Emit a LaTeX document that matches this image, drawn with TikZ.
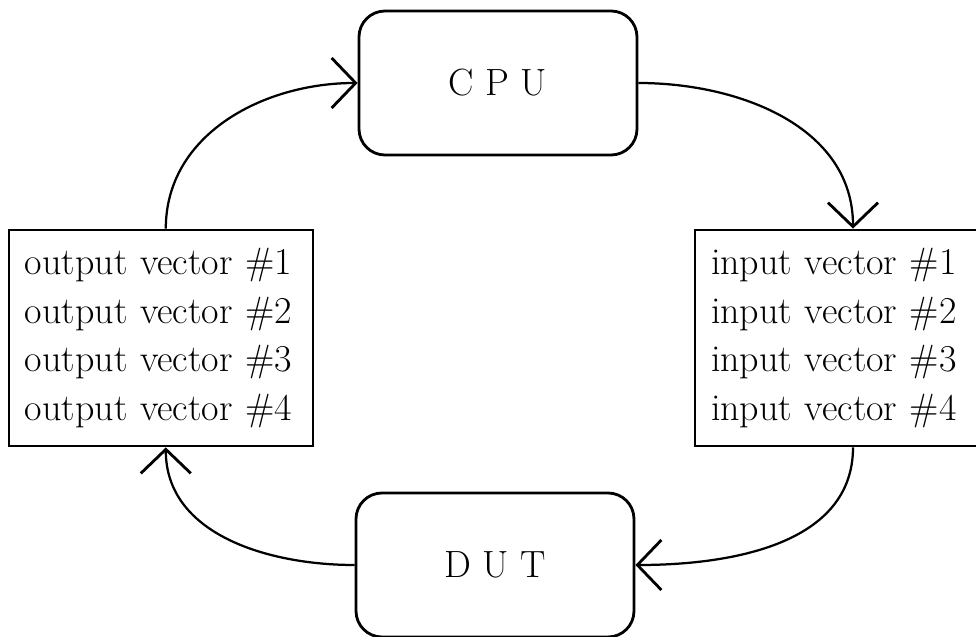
\documentclass[tikz,border=0pt]{standalone}
\usepackage{tikz}
\usetikzlibrary{arrows.meta}
\tikzstyle{base}=[line width=2pt, font=\fontsize{27}{34.5}\selectfont]
\tikzstyle{unit}=[draw, rounded corners=0.65cm, minimum width=6.95cm, minimum height=3.6cm]
\tikzstyle{vectors}=[draw, align=left, inner xsep=0.4cm, minimum height=5.4cm]
\tikzstyle{flow}=[line width=1.6pt, -{Straight Barb[length=0.6cm, width=1.25cm, line width=2pt]}]

\begin{document}
\begin{tikzpicture}[base]
    \path [use as bounding box] (0,0) rectangle (24.4,15.9);
    \node [unit] (cpu) at (12.45,13.825) {C\hspace{0.3em}P\hspace{0.3em}U};
    \node [unit] (dut) at (12.375,1.775) {D\hspace{0.3em}U\hspace{0.3em}T};
    \node [vectors, text width=6.8cm] (outvec) at (4.025,7.45)
        {output vector \#1\\output vector \#2\\output vector \#3\\output vector \#4};
    \node [vectors, text width=7.1cm] (invec) at (21.325,7.45)
        {input vector \#1\\input vector \#2\\input vector \#3\\input vector \#4};
    % loop: CPU -> inputs -> DUT -> outputs -> CPU
    \draw [flow] (cpu.east) to [out=0, in=90] (invec.north);
    \draw [flow] (invec.south) to [out=-90, in=0] (dut.east);
    \draw [flow] (dut.west) to [out=180, in=-90] ([xshift=0.12cm]outvec.south);
    \draw [flow] ([xshift=0.12cm]outvec.north) to [out=90, in=180] (cpu.west);
\end{tikzpicture}
\end{document}
